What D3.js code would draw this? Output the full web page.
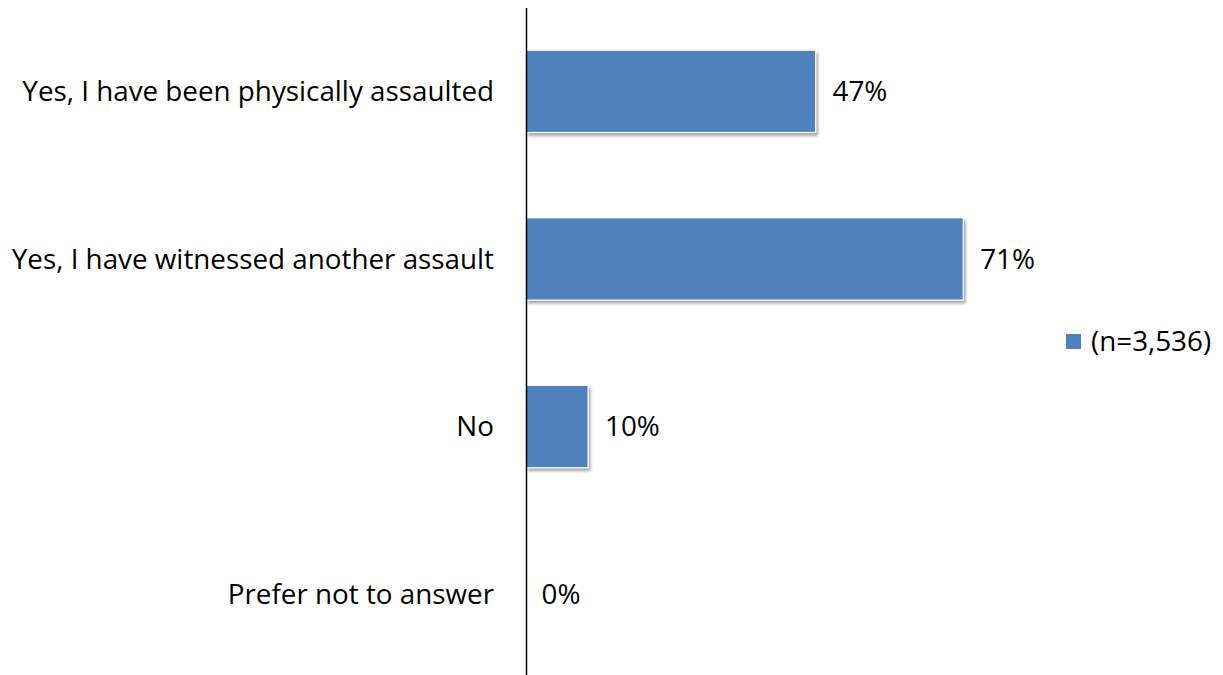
<!DOCTYPE html>
<html><head><meta charset="utf-8">
<script src="https://cdn.jsdelivr.net/npm/d3@7"></script>
<style>body{margin:0;background:#fff}svg{display:block}text{font-family:"Open Sans",sans-serif;fill:#000}</style>
</head><body><svg id="c" width="1223" height="675"></svg>
<script>
const categories = ["Yes, I have been physically assaulted","Yes, I have witnessed another assault","No","Prefer not to answer"];
const values = [47, 71, 10, 0];
const valueLabels = ["47%","71%","10%","0%"];
const seriesName = "(n=3,536)";

const svg = d3.select("#c");
const x = d3.scaleLinear().domain([0, 80]).range([526.5, 526.5 + 80*6.15]);
const y = d3.scaleBand().domain(categories).range([7.5, 678]).paddingInner(0.51).paddingOuter(0.255);

const defs = svg.append("defs");
const f = defs.append("filter").attr("id","sh").attr("x","-10%").attr("y","-10%").attr("width","130%").attr("height","130%");
f.append("feGaussianBlur").attr("in","SourceAlpha").attr("stdDeviation",1.6).attr("result","b");
f.append("feOffset").attr("in","b").attr("dx",2).attr("dy",2.5).attr("result","o");
f.append("feComponentTransfer").attr("in","o").attr("result","o2").append("feFuncA").attr("type","linear").attr("slope",0.35);
const m = f.append("feMerge"); m.append("feMergeNode").attr("in","o2"); m.append("feMergeNode").attr("in","SourceGraphic");

svg.selectAll("rect.bar").data(values).join("rect").attr("class","bar")
  .attr("x", x(0)).attr("y",(d,i)=>y(categories[i]))
  .attr("width", d=>Math.max(0,x(d)-x(0))).attr("height", y.bandwidth())
  .attr("fill","#4f81bd").attr("stroke","#ffffff").attr("stroke-width",1)
  .attr("filter","url(#sh)")
  .style("display", d=>d>0?null:"none");

svg.append("line").attr("x1",x(0)).attr("x2",x(0)).attr("y1",8).attr("y2",675).attr("stroke","#000").attr("stroke-width",1.5);

const fs = 27.8;
svg.selectAll("text.cat").data(categories).join("text").attr("class","cat")
  .attr("x",494).attr("y",d=>y(d)+y.bandwidth()/2).attr("dy","0.35em")
  .attr("text-anchor","end").attr("font-size",fs).text(d=>d);

svg.selectAll("text.val").data(values).join("text").attr("class","val")
  .attr("x",(d)=>x(d)+ (d>0?17:15)).attr("y",(d,i)=>y(categories[i])+y.bandwidth()/2).attr("dy","0.35em")
  .attr("font-size",fs).text((d,i)=>valueLabels[i]);

const lg = svg.append("g").attr("transform","translate(1066,334)");
lg.append("rect").attr("width",15).attr("height",15).attr("fill","#4f81bd");
lg.append("text").attr("x",25).attr("y",7.5).attr("dy","0.35em").attr("font-size",fs).text(seriesName);
</script></body></html>
